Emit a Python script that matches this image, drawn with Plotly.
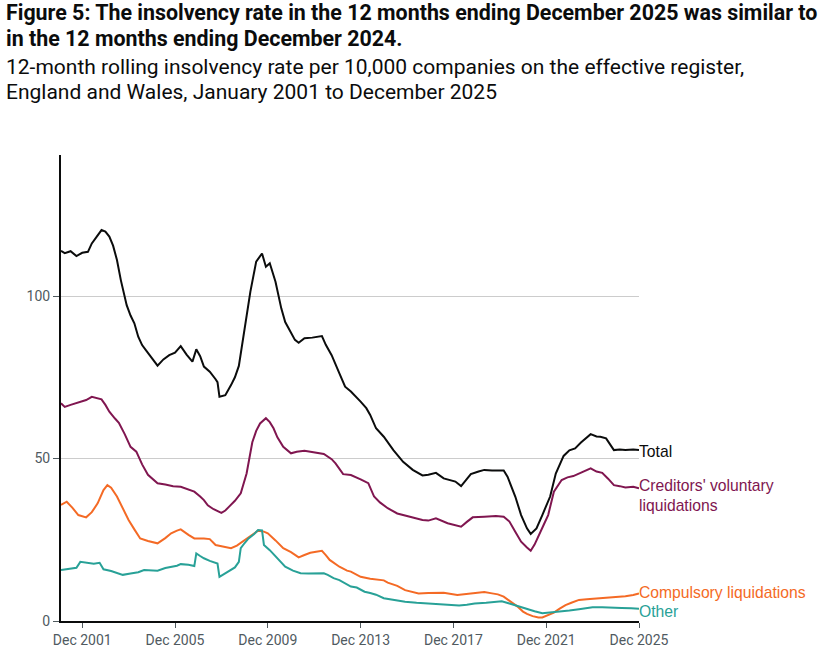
import plotly.graph_objects as go

# Month offsets from January 2001 and values
total_m = [0, 2, 5, 8, 11, 14, 16, 18, 21, 23, 25, 27, 29, 31, 34, 36, 38, 40, 42, 44, 46, 48, 50, 53, 56, 59, 62, 65, 68, 70, 72, 74, 77, 80, 81, 82, 85, 88, 90, 92, 95, 98, 101, 104, 106, 108, 111, 114, 116, 119, 121, 123, 126, 130, 135, 137, 140, 144, 147, 150, 153, 155, 158, 160, 163, 167, 172, 177, 182, 187, 190, 194, 198, 204, 207, 210, 212, 216, 219, 223, 229, 231, 235, 238, 241, 243, 246, 249, 253, 256, 260, 263, 266, 269, 272, 274, 277, 279, 282, 284, 286, 289, 292, 296, 299]
total_v = [113.9, 113.2, 113.8, 112.3, 113.3, 113.6, 116.2, 117.8, 120.3, 119.8, 118.3, 115.5, 111.1, 104.9, 97.2, 94.0, 91.6, 87.5, 84.9, 83.3, 81.8, 80.0, 78.6, 80.5, 81.8, 82.6, 84.6, 82.0, 79.8, 83.6, 81.5, 78.3, 76.7, 74.4, 73.5, 69.0, 69.5, 72.6, 75.0, 78.5, 90.6, 101.3, 110.6, 113.1, 109.0, 110.1, 104.4, 96.2, 92.0, 88.5, 86.5, 85.6, 87.0, 87.2, 87.7, 85.0, 81.8, 76.2, 72.1, 70.6, 68.8, 67.5, 65.5, 63.4, 59.3, 56.7, 52.6, 49.0, 46.5, 44.8, 45.0, 45.6, 43.9, 42.9, 41.5, 43.5, 45.2, 46.0, 46.5, 46.3, 46.3, 44.4, 38.3, 32.6, 28.5, 26.8, 28.5, 32.6, 38.3, 45.4, 50.8, 52.5, 53.1, 54.9, 56.5, 57.5, 56.8, 56.7, 56.2, 54.5, 52.6, 52.8, 52.6, 52.8, 52.6]

cvl_m = [0, 2, 5, 9, 13, 16, 19, 21, 23, 25, 28, 30, 33, 36, 39, 42, 45, 48, 50, 54, 58, 62, 66, 69, 72, 74, 76, 79, 83, 85, 87, 90, 93, 96, 99, 101, 103, 106, 108, 110, 112, 115, 119, 122, 126, 130, 133, 136, 140, 142, 146, 150, 155, 159, 162, 165, 169, 174, 179, 183, 187, 190, 194, 200, 204, 207, 210, 213, 219, 225, 229, 232, 235, 238, 241, 243, 245, 247, 250, 252, 255, 259, 262, 265, 269, 272, 274, 277, 280, 283, 286, 289, 292, 296, 299]
cvl_v = [67.0, 65.9, 66.5, 67.2, 68.0, 69.0, 68.6, 68.2, 66.5, 64.4, 62.3, 61.0, 57.5, 53.6, 52.1, 48.2, 45.0, 43.3, 42.4, 42.0, 41.5, 41.3, 40.5, 39.8, 38.3, 37.2, 35.6, 34.4, 33.3, 34.0, 35.2, 37.0, 39.3, 45.4, 55.0, 58.5, 60.8, 62.4, 61.2, 59.3, 56.5, 53.6, 51.6, 52.1, 52.4, 52.0, 51.8, 51.4, 49.8, 48.5, 45.2, 44.9, 43.6, 42.4, 38.3, 36.5, 34.7, 33.1, 32.3, 31.6, 31.1, 30.9, 31.6, 30.1, 29.5, 29.0, 30.5, 31.9, 32.1, 32.3, 32.1, 30.6, 27.5, 24.4, 22.6, 21.6, 23.5, 25.9, 30.0, 32.6, 39.8, 43.4, 44.2, 44.6, 45.6, 46.3, 47.0, 46.0, 45.6, 43.8, 41.8, 41.5, 41.1, 41.3, 40.8]

comp_m = [0, 3, 6, 9, 13, 16, 19, 22, 24, 26, 29, 32, 35, 38, 41, 45, 50, 54, 57, 60, 62, 66, 69, 74, 77, 80, 84, 88, 91, 94, 98, 102, 105, 107, 111, 115, 119, 123, 126, 129, 132, 135, 137, 139, 144, 148, 150, 155, 160, 164, 167, 169, 174, 178, 182, 185, 190, 193, 198, 205, 210, 214, 219, 223, 226, 229, 232, 234, 236, 239, 241, 244, 247, 249, 252, 255, 258, 261, 264, 268, 272, 275, 280, 285, 289, 292, 296, 299]
comp_v = [35.7, 36.7, 34.8, 32.6, 31.9, 33.5, 36.2, 40.3, 41.8, 41.0, 38.3, 34.5, 31.1, 28.2, 25.4, 24.6, 23.9, 25.5, 27.0, 27.8, 28.2, 26.5, 25.4, 25.4, 25.2, 23.4, 22.9, 22.4, 23.2, 24.4, 26.2, 27.8, 27.5, 27.0, 24.8, 22.4, 21.2, 19.6, 20.3, 21.0, 21.3, 21.6, 20.3, 18.8, 16.7, 15.5, 15.2, 13.6, 13.0, 12.8, 12.5, 11.8, 10.8, 9.5, 9.0, 8.5, 8.6, 8.7, 8.7, 8.0, 8.3, 8.7, 8.9, 8.5, 8.2, 7.5, 6.2, 5.4, 4.5, 2.9, 2.2, 1.5, 1.1, 1.1, 1.8, 2.6, 3.8, 4.9, 5.6, 6.5, 6.7, 6.8, 7.0, 7.3, 7.5, 7.6, 8.0, 8.5]

other_m = [0, 4, 8, 10, 14, 17, 20, 22, 26, 29, 32, 36, 40, 43, 47, 50, 54, 57, 60, 62, 66, 69, 70, 72, 74, 77, 81, 82, 84, 87, 90, 92, 93, 95, 97, 100, 102, 104, 105, 108, 111, 114, 116, 120, 124, 128, 132, 136, 138, 141, 144, 148, 150, 153, 157, 160, 163, 167, 172, 178, 184, 190, 196, 202, 206, 210, 214, 220, 225, 228, 232, 236, 241, 245, 249, 253, 258, 263, 268, 272, 275, 280, 285, 290, 295, 299]
other_v = [15.7, 16.1, 16.4, 18.2, 17.9, 17.6, 17.9, 15.9, 15.4, 14.9, 14.2, 14.6, 15.0, 15.7, 15.5, 15.5, 16.3, 16.7, 17.0, 17.5, 17.3, 16.9, 20.8, 20.0, 19.3, 18.5, 17.7, 13.6, 14.3, 15.2, 16.5, 18.2, 22.4, 24.0, 25.4, 26.8, 28.0, 27.9, 23.4, 21.8, 19.8, 18.0, 16.7, 15.5, 14.7, 14.6, 14.6, 14.7, 14.2, 13.2, 12.6, 11.1, 10.6, 10.3, 9.0, 8.6, 8.1, 7.0, 6.5, 5.9, 5.6, 5.4, 5.1, 4.9, 4.8, 5.0, 5.4, 5.6, 5.9, 6.1, 5.4, 4.6, 3.6, 3.0, 2.4, 2.6, 2.9, 3.2, 3.6, 4.0, 4.2, 4.2, 4.2, 4.0, 3.9, 3.8]

tick_years = [2001, 2005, 2009, 2013, 2017, 2021, 2025]
y_ticks = [0, 50, 100]


def ym(m):
    return f"{2001 + m // 12}-{m % 12 + 1:02d}-01"


series = [
    ("Total", total_m, total_v, "#0b0c0c"),
    ("Creditors' voluntary liquidations", cvl_m, cvl_v, "#801650"),
    ("Compulsory liquidations", comp_m, comp_v, "#f46a25"),
    ("Other", other_m, other_v, "#28a197"),
]

fig = go.Figure()
for name, ms, vs, col in series:
    fig.add_trace(go.Scatter(
        x=[ym(m) for m in ms], y=vs, mode="lines", name=name,
        line=dict(color=col, width=2), showlegend=False, hoverinfo="x+y",
    ))

label_font = "Liberation Sans, Arial, sans-serif"
end_x = ym(299)
end_labels = [
    ("Total", total_v[-1], "#0b0c0c", -1),
    ("Creditors' voluntary<br>liquidations", cvl_v[-1], "#801650", -7),
    ("Compulsory liquidations", comp_v[-1], "#f46a25", 1),
    ("Other", other_v[-1], "#28a197", -3),
]
for txt, yv, col, ysh in end_labels:
    fig.add_annotation(x=end_x, y=yv, text=txt, xref="x", yref="y",
                       xanchor="left", yanchor="middle", align="left",
                       xshift=0, yshift=ysh, showarrow=False,
                       borderpad=0, borderwidth=0,
                       font=dict(family=label_font, size=15.7, color=col))

# Title and subtitle
title_font = "Roboto, sans-serif"
px_x = (6 - 61) / 578
lines = [
    ("<b>Figure 5: The insolvency rate in the 12 months ending December 2025 was similar to</b>", 12.8, 21.4),
    ("<b>in the 12 months ending December 2024.</b>", 38.7, 21.4),
    ("12-month rolling insolvency rate per 10,000 companies on the effective register,", 66.8, 21),
    ("England and Wales, January 2001 to December 2025", 91.8, 21),
]
for txt, py, fs in lines:
    fig.add_annotation(x=px_x, y=(621 - py) / 466, xref="paper", yref="paper",
                       text=txt, xanchor="left", yanchor="middle", showarrow=False,
                       borderpad=0, borderwidth=0,
                       font=dict(family=title_font, size=fs, color="#0b0c0c"))

fig.update_layout(
    width=821, height=656,
    margin=dict(l=61, r=182, t=155, b=35, autoexpand=False),
    plot_bgcolor="white", paper_bgcolor="white",
    font=dict(family="Roboto, sans-serif", size=14, color="#505a5f"),
    xaxis=dict(
        type="date", automargin=False,
        range=[ym(0), ym(299)],
        tickvals=[f"{y}-12-01" for y in tick_years],
        ticktext=[f"Dec {y}" for y in tick_years],
        showgrid=False, showline=True, linecolor="#0b0c0c", linewidth=2,
        ticks="outside", ticklen=5, tickcolor="#505a5f", tickwidth=1,
        zeroline=False, tickfont=dict(size=14, color="#505a5f"),
    ),
    yaxis=dict(
        automargin=False,
        range=[0, 143.4],
        tickvals=y_ticks,
        showgrid=True, gridcolor="#cccccc", gridwidth=1,
        showline=True, linecolor="#0b0c0c", linewidth=2,
        ticks="outside", ticklen=6, tickcolor="#505a5f", tickwidth=1,
        zeroline=False, tickfont=dict(size=14, color="#505a5f"),
    ),
)

fig.write_html("out.html", config={"displayModeBar": False},
               post_script="document.body.style.margin='0';")
